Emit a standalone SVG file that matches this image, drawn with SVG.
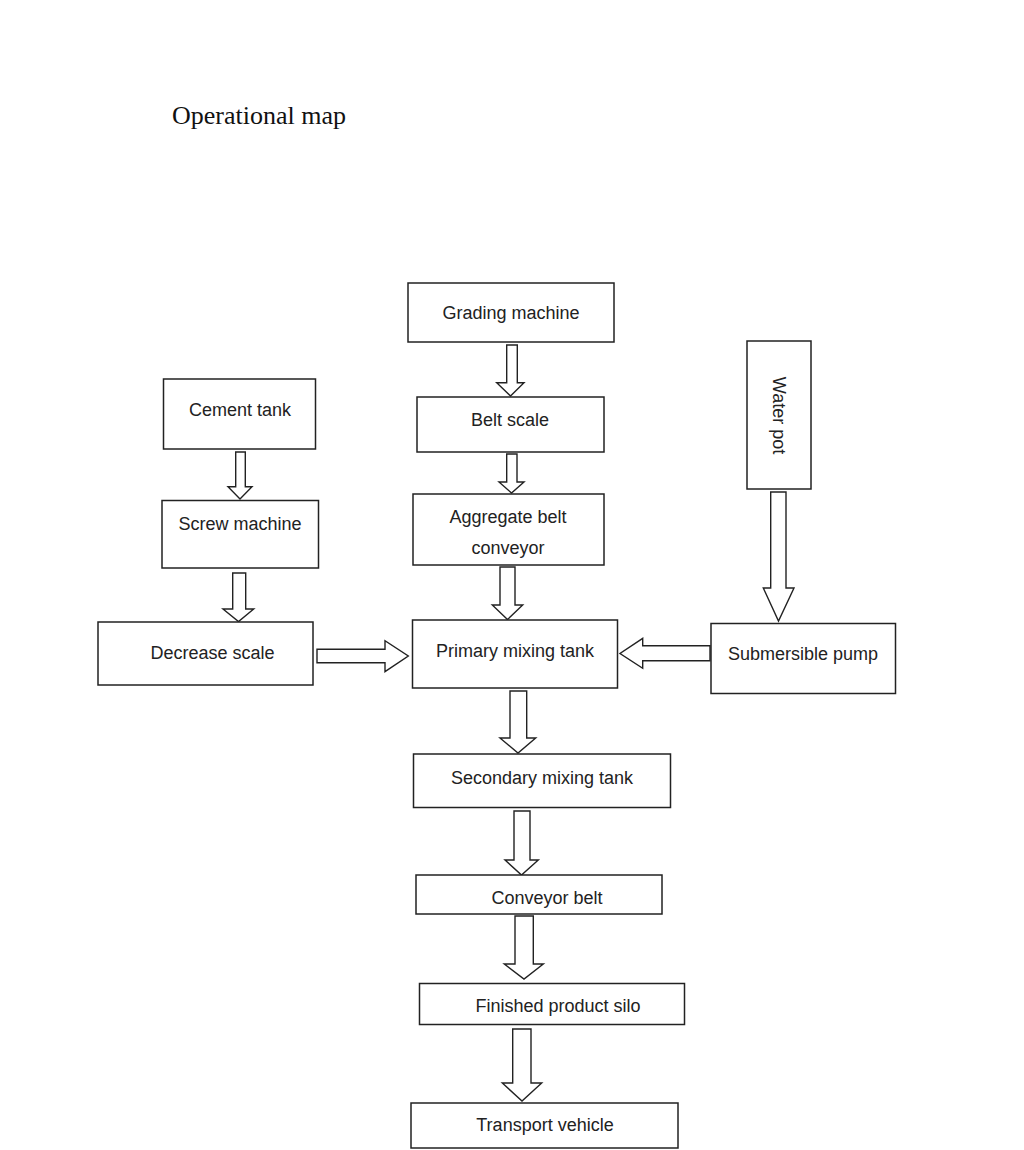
<svg xmlns="http://www.w3.org/2000/svg" width="1024" height="1150" viewBox="0 0 1024 1150">
<style>
.box{fill:#fff;stroke:#222;stroke-width:1.5}
.lbl{font-family:"Liberation Sans",Arial,sans-serif;font-size:18px;fill:#222;text-anchor:middle}
.arr{fill:#fff;stroke:#222;stroke-width:1.4;stroke-linejoin:miter}
.title{font-family:"Liberation Serif","Times New Roman",serif;font-size:26px;fill:#111}
</style>
<rect width="1024" height="1150" fill="#fff"/>
<text class="title" x="172" y="124">Operational map</text>
<g id="connectors">
<polygon class="arr" points="235.7,452 245.3,452 245.3,486.7 252,486.7 240,499 228,486.7 235.7,486.7"/>
<polygon class="arr" points="232.7,573 245.7,573 245.7,609 253.7,609 238.5,621.5 223,609 232.7,609"/>
<polygon class="arr" points="506.7,345 517.3,345 517.3,382.7 524,382.7 510.5,396 496.7,382.7 506.7,382.7"/>
<polygon class="arr" points="506.7,454 517,454 517,482 524,482 511.5,493 499,482 506.7,482"/>
<polygon class="arr" points="500,567 515,567 515,605 522.7,605 507.5,619.5 492.3,605 500,605"/>
<polygon class="arr" points="770.7,492 786,492 786,588 794,588 778.5,621 763.3,588 770.7,588"/>
<polygon class="arr" points="510,691 526.7,691 526.7,738 535.7,738 518,753 500,738 510,738"/>
<polygon class="arr" points="514,811 530,811 530,860 538.3,860 521.5,875 505,860 514,860"/>
<polygon class="arr" points="515,916 533.3,916 533.3,964 543.3,964 524,979 504.3,964 515,964"/>
<polygon class="arr" points="512.7,1029 531,1029 531,1083 541.7,1083 522,1101 502.3,1083 512.7,1083"/>
<polygon class="arr" points="317,649.3 385,649.3 385,640.7 408.3,656 385,671.7 385,662.7 317,662.7"/>
<polygon class="arr" points="710,645.7 642.7,645.7 642.7,638.3 620,653.5 642.7,668.3 642.7,660.7 710,660.7"/>
</g>
<g id="grading"><rect class="box" x="408" y="283" width="206" height="59"/><text class="lbl" x="511" y="319">Grading machine</text></g>
<g id="beltscale"><rect class="box" x="417" y="397" width="187" height="55"/><text class="lbl" x="510" y="426">Belt scale</text></g>
<g id="aggregate"><rect class="box" x="413" y="494" width="191" height="71"/><text class="lbl" x="508" y="523">Aggregate belt</text><text class="lbl" x="508" y="554">conveyor</text></g>
<g id="primary"><rect class="box" x="412.5" y="620" width="205" height="68"/><text class="lbl" x="515" y="657">Primary mixing tank</text></g>
<g id="secondary"><rect class="box" x="413.5" y="754" width="257" height="53.5"/><text class="lbl" x="542" y="784">Secondary mixing tank</text></g>
<g id="conveyorbelt"><rect class="box" x="416" y="875" width="246" height="39"/><text class="lbl" x="547" y="904">Conveyor belt</text></g>
<g id="finished"><rect class="box" x="419.5" y="983.5" width="265" height="41"/><text class="lbl" x="558" y="1012">Finished product silo</text></g>
<g id="transport"><rect class="box" x="411" y="1103" width="267" height="45"/><text class="lbl" x="545" y="1131">Transport vehicle</text></g>
<g id="cement"><rect class="box" x="163.5" y="379" width="152" height="70"/><text class="lbl" x="240" y="416">Cement tank</text></g>
<g id="screw"><rect class="box" x="162" y="500.5" width="156.5" height="67.5"/><text class="lbl" x="240" y="530">Screw machine</text></g>
<g id="decrease"><rect class="box" x="98" y="622" width="215" height="63"/><text class="lbl" x="212.5" y="659">Decrease scale</text></g>
<g id="waterpot"><rect class="box" x="747" y="341" width="64" height="148"/><text class="lbl" transform="translate(773,415.5) rotate(90)" x="0" y="0">Water pot</text></g>
<g id="pump"><rect class="box" x="711" y="623.5" width="184.5" height="70"/><text class="lbl" x="803" y="660">Submersible pump</text></g>
</svg>
